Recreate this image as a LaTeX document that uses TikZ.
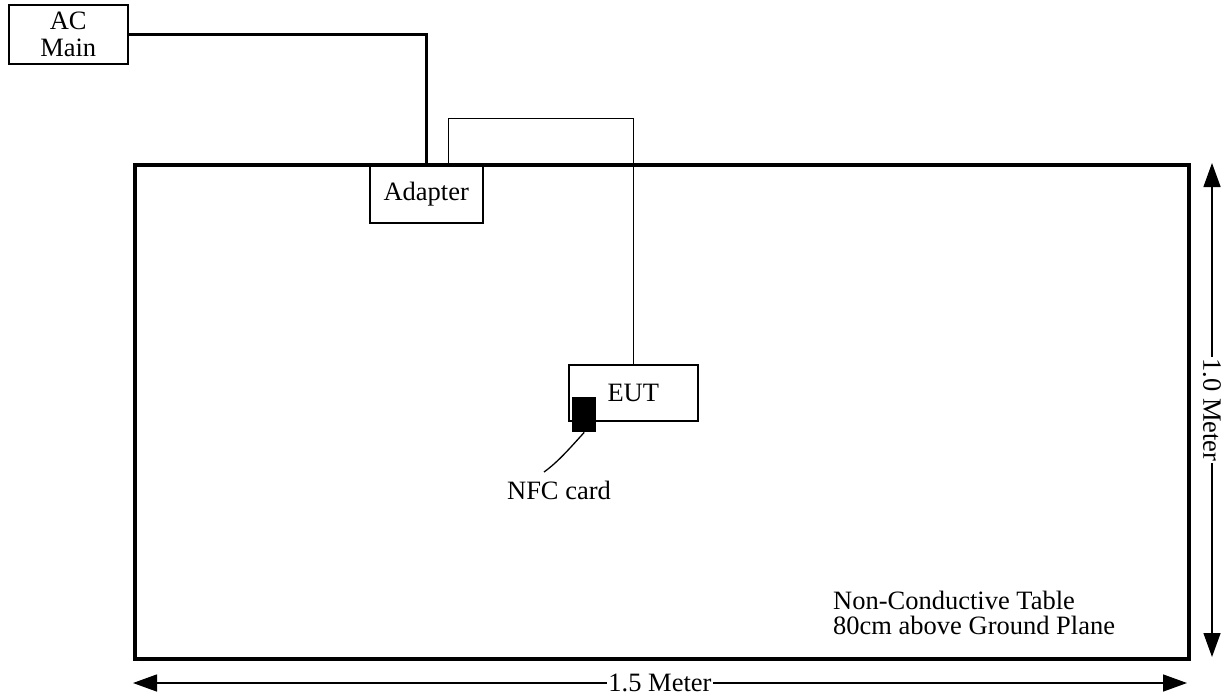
\documentclass[tikz,border=0pt]{standalone}
\usepackage{fontspec}
\setmainfont{Liberation Serif}
\usetikzlibrary{arrows.meta}
\begin{document}
\begin{tikzpicture}[x=1pt,y=-1pt,
  font=\fontsize{26.5}{27}\selectfont,
  box/.style={draw, line width=1.5pt, rectangle, anchor=north west, inner sep=0pt, align=center},
  thick cable/.style={line width=3pt},
  thin cable/.style={line width=1pt},
  dim/.style={line width=1.4pt, {Triangle[length=24pt,width=17pt]}-{Triangle[length=24pt,width=17pt]}},
  dimlabel/.style={fill=white, inner sep=1pt}]
\useasboundingbox (0,0) rectangle (1228,696);
% table
\node[draw, line width=3.5pt, rectangle, anchor=north west, inner sep=0pt,
      minimum width=1054pt, minimum height=494pt] (table) at (133,163) {};
% boxes
\node[box, minimum width=119pt, minimum height=59pt] (ac) at (8,4) {AC\\Main};
\node[box, fill=white, minimum width=113pt, minimum height=57pt] (adapter) at (369,165) {Adapter};
\node[box, minimum width=129pt, minimum height=56pt] (eut) at (568,364) {EUT};
\node[fill=black, inner sep=0pt, anchor=north west, minimum width=24pt, minimum height=35pt] (nfc) at (572,397) {};
\node (nfctext) at (559,490) {NFC card};
% cables
\coordinate (adpin) at (426,164);
\coordinate (adpout) at (448,164);
\draw[thick cable] (ac.east) -| (adpin);
\draw[thin cable] (adpout) -- (448,118) -| (eut.north);
\coordinate (nfcend) at (544,472);
\draw[line width=1.3pt] (nfc.south) .. controls (570,448) and (558,462) .. (nfcend);
% table label
\node[anchor=west, align=left, inner sep=0pt, font=\fontsize{26.5}{25}\selectfont] (tlabel) at (833,613) {Non-Conductive Table\\80cm above Ground Plane};
% dimensions
\coordinate (hl) at (133,683);
\coordinate (hr) at (1187,683);
\draw[dim] (hl) -- node[dimlabel] (hlab) {1.5 Meter} (hr);
\coordinate (vt) at (1212,163);
\coordinate (vb) at (1212,657);
\draw[dim] (vt) -- node[dimlabel, rotate=-90] (vlab) {1.0 Meter} (vb);
\end{tikzpicture}
\end{document}
